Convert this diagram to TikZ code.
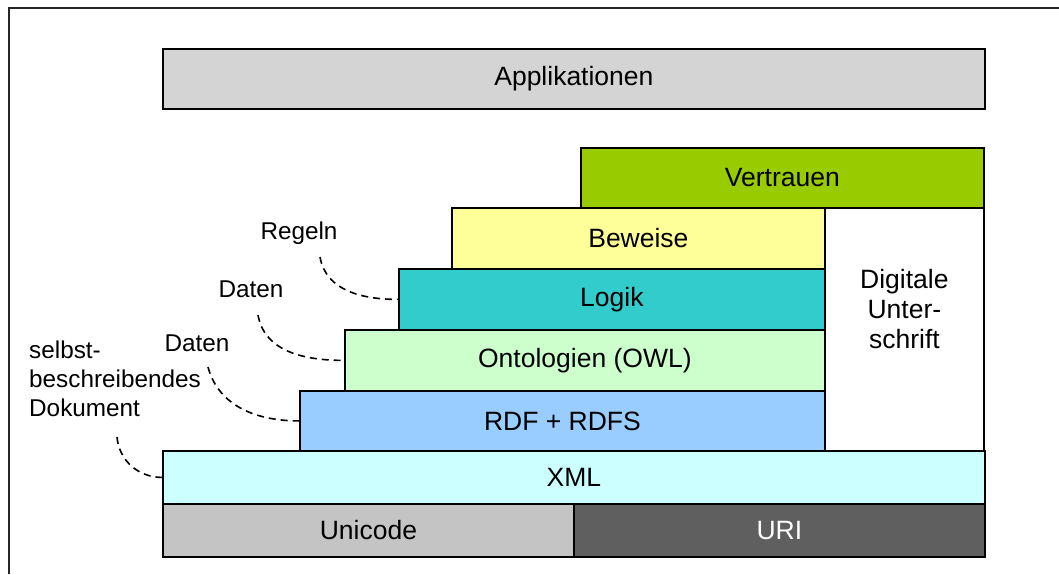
\documentclass[tikz,border=0pt]{standalone}
\usepackage{fontspec}
\setmainfont{Liberation Sans}
\definecolor{applfill}{HTML}{D4D4D4}
\definecolor{trustfill}{HTML}{99CC00}
\definecolor{prooffill}{HTML}{FFFF99}
\definecolor{logicfill}{HTML}{33CCCC}
\definecolor{ontofill}{HTML}{CCFFCC}
\definecolor{rdffill}{HTML}{99CCFF}
\definecolor{xmlfill}{HTML}{CCFFFF}
\definecolor{unifill}{HTML}{C4C4C4}
\definecolor{urifill}{HTML}{5F5F5F}
\begin{document}
\begin{tikzpicture}[x=1pt,y=-1pt,
  layer/.style={draw=black, line width=1.8pt, anchor=north west, inner sep=0pt,
    font=\fontsize{26.5}{30}\selectfont},
  note/.style={font=\fontsize{24.3}{29}\selectfont, inner sep=0pt},
  link/.style={dash pattern=on 7pt off 5pt, line width=1.6pt}]
\useasboundingbox (0,0) rectangle (1059,574);
% frame
\draw[line width=2pt, draw=black!85] (9,574) -- (9,8) -- (1059,8);

% layer stack
\node[layer, fill=applfill,  minimum width=822pt, minimum height=60pt] (appl) at (162,48) {Applikationen};
\node[layer, fill=trustfill, minimum width=403pt, minimum height=60pt] (trust) at (580,147) {Vertrauen};
\node[layer, fill=prooffill, minimum width=373pt, minimum height=61pt] (proof) at (451,207) {Beweise};
\node[layer, fill=white,     minimum width=159pt, minimum height=243pt] (sig) at (824,207) {};
\node[font=\fontsize{26.5}{30}\selectfont, align=center, inner sep=0pt] (sigtext)
  at ([yshift=20pt]sig.center) {Digitale\\Unter-\\schrift};
\node[layer, fill=logicfill, minimum width=426pt, minimum height=61pt] (logic) at (398,268) {Logik};
\node[layer, fill=ontofill,  minimum width=480pt, minimum height=61pt] (onto) at (344,329) {Ontologien (OWL)};
\node[layer, fill=rdffill,   minimum width=525pt, minimum height=60pt] (rdf) at (299,390) {RDF + RDFS};
\node[layer, fill=xmlfill,   minimum width=822pt, minimum height=53pt] (xml) at (162,450) {XML};
\node[layer, fill=unifill,   minimum width=411pt, minimum height=53pt] (uni) at (162,503) {Unicode};
\node[layer, fill=urifill,   minimum width=411pt, minimum height=53pt, text=white] (uri) at (573,503) {URI};

% side notes
\node[note] (rules) at (299,233) {Regeln};
\node[note] (data1) at (251,289) {Daten};
\node[note] (data2) at (197,343) {Daten};
\node[note, anchor=west, align=left] (doc) at (29,379) {selbst-\\beschreibendes\\Dokument};

\coordinate (r0) at (320,257);
\coordinate (d1) at (258,315);
\coordinate (d2) at (208,367);
\coordinate (k0) at (117,437);

\draw[link] (r0) to[out=-80,in=180] (logic.west);
\draw[link] (d1) to[out=-80,in=180] (onto.west);
\draw[link] (d2) to[out=-75,in=180] (rdf.west);
\draw[link] (k0) to[out=-85,in=180] (xml.west);
\end{tikzpicture}
\end{document}
